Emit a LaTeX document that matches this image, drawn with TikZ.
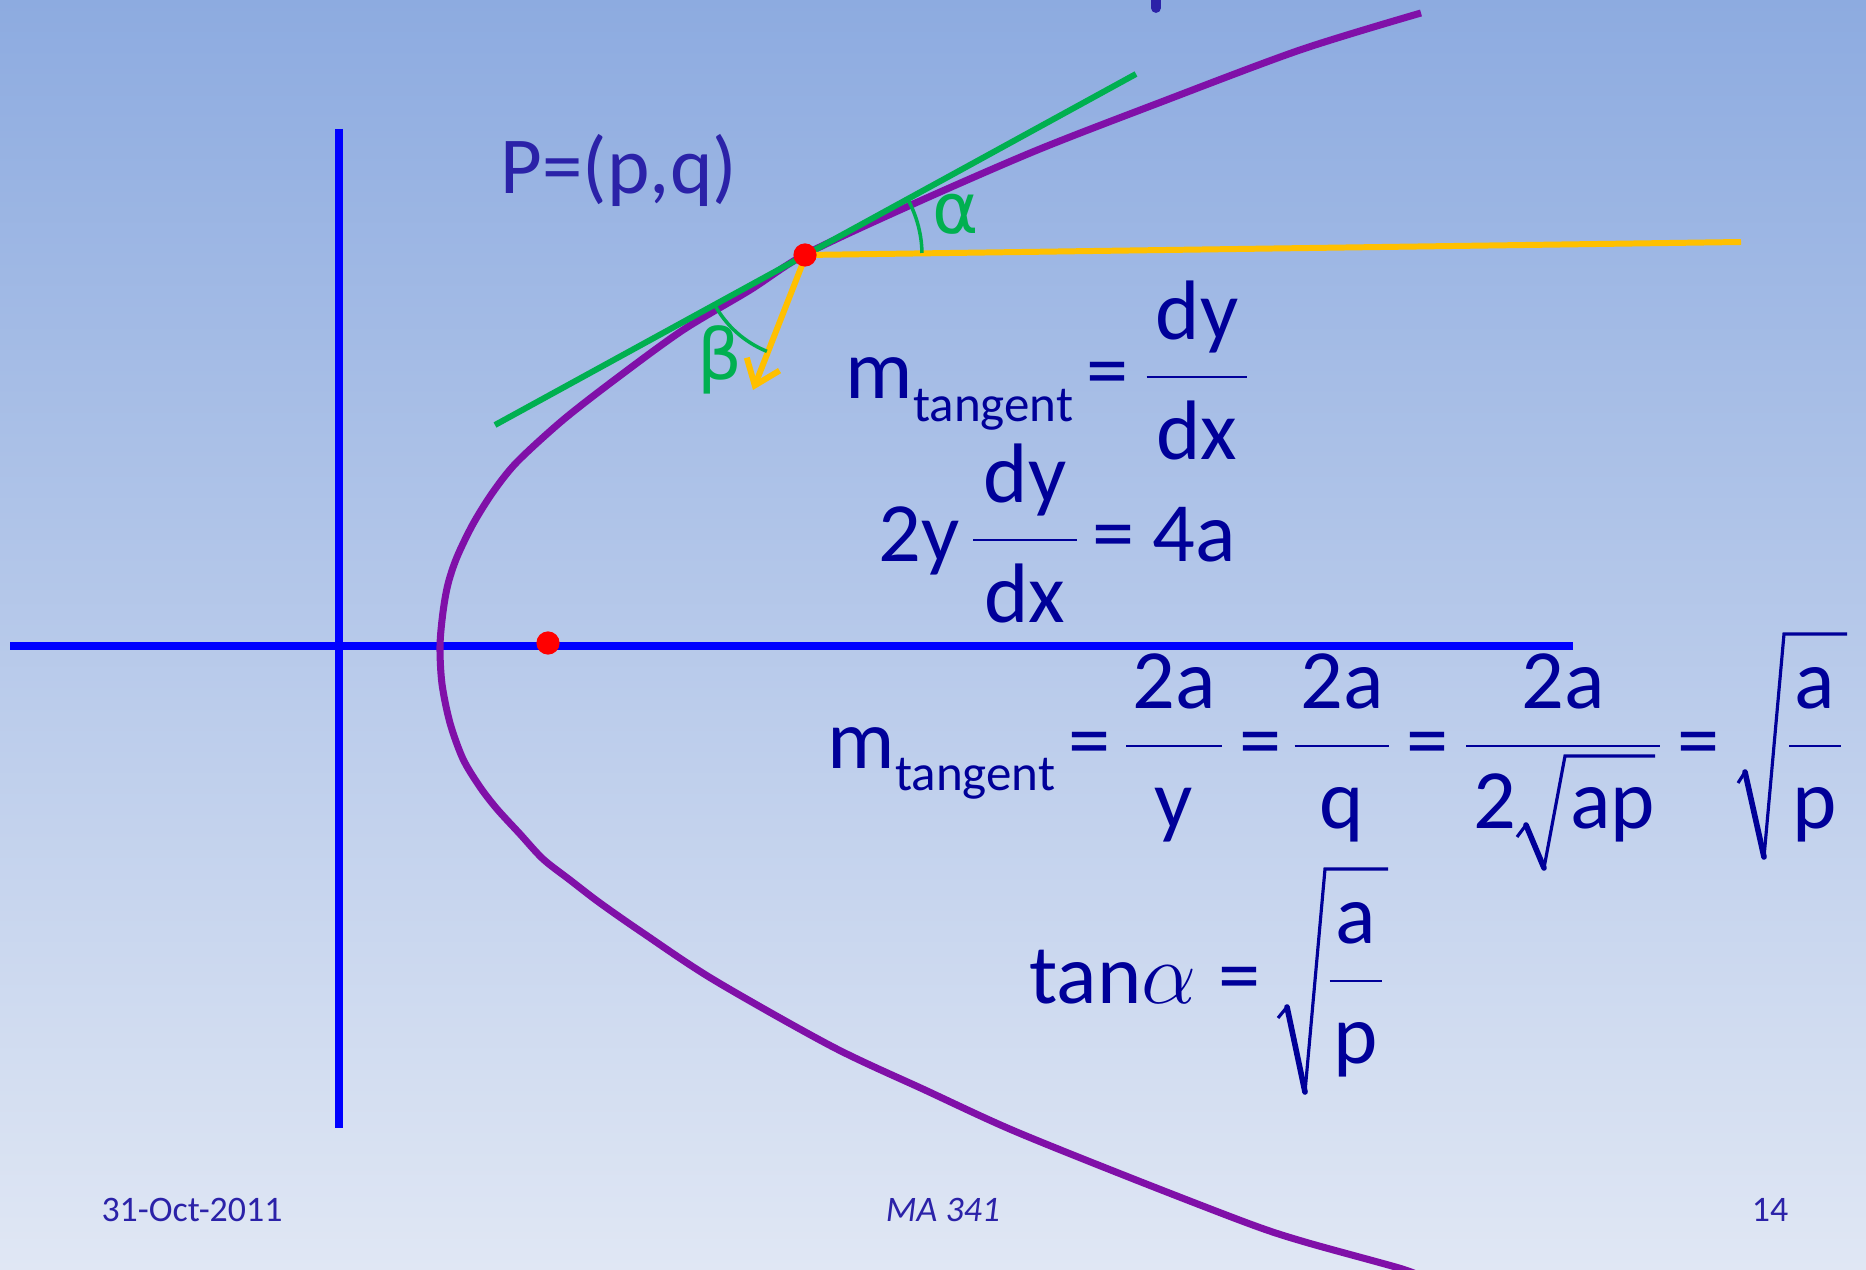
\documentclass[tikz,border=0pt]{standalone}
\usepackage{fontspec}
\setmainfont{Carlito}
\newfontfamily\greekfont{DejaVu Sans}
\usetikzlibrary{arrows.meta,calc}
\definecolor{bgtop}{RGB}{141,171,224}
\definecolor{bgbot}{RGB}{224,231,244}
\definecolor{axisblue}{RGB}{0,0,255}
\definecolor{parab}{RGB}{128,16,168}
\definecolor{tangreen}{RGB}{0,176,80}
\definecolor{ylw}{RGB}{255,192,0}
\definecolor{dotred}{RGB}{255,0,0}
\definecolor{eqblue}{RGB}{0,0,153}
\definecolor{lblblue}{RGB}{43,34,168}
\newcommand{\tx}[1]{\mbox{#1}}
\newcommand{\mtan}{m\raisebox{-6.5pt}{\fontsize{14.5}{15}\selectfont tangent}}
\newcommand{\fr}[3]{$\displaystyle\frac{\makebox[#1pt]{#2}}{\mbox{#3}}$}
\begin{document}
\begin{tikzpicture}[x=0.01cm,y=-0.01cm,
  axisline/.style={draw=axisblue,line width=2pt},
  curve/.style={draw=parab,line width=2pt,line join=round},
  tanline/.style={draw=tangreen,line width=1.7pt},
  yline/.style={draw=ylw,line width=1.7pt},
  anglearc/.style={draw=tangreen,line width=1pt},
  dot/.style={circle,fill=dotred,inner sep=0pt,minimum size=6.6pt},
  eq/.style={anchor=base west,inner sep=0pt,text=eqblue,font=\fontsize{24}{28}\selectfont},
  eqc/.style={anchor=base,inner sep=0pt,text=eqblue,font=\fontsize{24}{28}\selectfont},
  surdthin/.style={draw=eqblue,line width=0.9pt,line join=miter},
  surdthick/.style={draw=eqblue,line width=1.6pt,line cap=round},
  greek/.style={text=tangreen,inner sep=0pt,font=\greekfont\fontsize{20}{24}\selectfont},
  foot/.style={text=lblblue,inner sep=0pt,font=\fontsize{10.2}{12}\selectfont}]
\useasboundingbox (0,0) rectangle (1866,1270);
\clip (0,0) rectangle (1866,1270);
\shade[top color=bgtop,bottom color=bgbot] (0,0) rectangle (1866,1270);

% axes
\coordinate (vtop) at (339,129);
\coordinate (vmid) at (339,452);
\coordinate (vbot) at (339,1128);
\coordinate (hl) at (10,646);
\coordinate (hr) at (1573,646);
\path[axisline] (vtop) -- (vmid);
\path[axisline] (vmid) -- (vbot);
\path[axisline] (hl) -- (hr);

% small mark at top
\draw[draw=lblblue,line width=2.8pt,line cap=round] (1156,-4) -- (1156,8);

% parabola
\path[curve] plot[smooth,tension=0.5] coordinates {
 (1421,13) (1300,50) (1156,104) (1035,151) (911,205) (806,254)
 (750,290) (683,330) (617,378) (563,420) (517,462) (493,492) (473,524) (457,557)
 (448,584) (443,612) (440,646) (442,684) (450,723) (463,759) (480,787) (497,809)
 (520,834) (543,859) (570,880) (600,903) (643,933) (714,980) (833,1047) (925,1090)
 (1012,1130) (1131,1178) (1250,1224) (1305,1242) (1399,1268) (1420,1276)};

% tangent point and lines
\coordinate (T) at (806,255);
\coordinate (tanA) at (495,425);
\coordinate (tanB) at (1136,74);
\coordinate (yR) at (1741,242);
\coordinate (arrEnd) at (753,390);
\path[tanline] (tanA) -- (tanB);
\path[yline] (T) -- (yR);
\draw[draw=ylw,line width=1.7pt,-{Straight Barb[length=6.5pt,width=10pt,line width=1.7pt]}] (T) -- (arrEnd);
\draw[anglearc] (T) ++(-1:116) arc[start angle=-1,end angle=-28.7,radius=116];
\draw[anglearc] (T) ++(151.3:104) arc[start angle=151.3,end angle=112.1,radius=104];
\node[dot] (P) at (805,255) {};
\node[dot] (F) at (548,643) {};

% labels
\node[text=lblblue,inner sep=0pt,font=\fontsize{23}{26}\selectfont] (plabel) at (619,170) {P=(p,q)};
\node[greek] (alab) at (956,214) {α};
\node[greek] (blab) at (720,360) {β};

% formula 1
\node[eq] (f1m) at (845,399) {\mtan};
\node[eqc] (f1eq) at (1108,399) {=};
\node[eqc] (f1fr) at (1197,399) {\fr{28.6}{dy}{dx}};

% formula 2
\node[eq] (f2a) at (878,562) {2y};
\node[eqc] (f2fr) at (1025,562) {\fr{29.5}{dy}{dx}};
\node[eqc] (f2eq) at (1114,562) {=};
\node[eq] (f2b) at (1152,562) {4a};

% formula 3
\node[eq] (f3m) at (827,768) {\mtan};
\node[eqc] (f3eq1) at (1090,768) {=};
\node[eqc] (f3fr1) at (1174,768) {\fr{27.3}{2a}{y}};
\node[eqc] (f3eq2) at (1261,768) {=};
\node[eqc] (f3fr2) at (1342,768) {\fr{27}{2a}{q}};
\node[eqc] (f3eq3) at (1428,768) {=};
\node[eqc] (f3fr3) at (1563,768) {$\displaystyle\frac{\makebox[55pt]{2a}}{\makebox[55pt][l]{\hspace{2pt}2\hspace{15.5pt}ap}}$};
\node[eqc] (f3eq4) at (1699,768) {=};
\node[eqc] (f3fr4) at (1815,768) {\fr{14.7}{a}{p}};
% radical of sqrt(ap)
\path[surdthin] (1517,837) -- (1526,825);
\path[surdthick] (1526,825) -- (1544,868);
\path[surdthin] (1544,868) -- (1565,756) -- (1655,756);
% radical of sqrt(a/p) in formula 3
\path[surdthin] (1738,783) -- (1745,772);
\path[surdthick] (1745,772) -- (1764,857);
\path[surdthin] (1764,857) -- (1784,634) -- (1847,634);

% formula 4
\node[eq] (f4a) at (1029,1003) {tan$\alpha$};
\node[eqc] (f4eq) at (1240,1003) {=};
\node[eqc] (f4fr) at (1356,1003) {\fr{15}{a}{p}};
\path[surdthin] (1278,1018) -- (1287,1007);
\path[surdthick] (1287,1007) -- (1305,1092);
\path[surdthin] (1305,1092) -- (1325,869) -- (1388,869);

% footer
\node[foot] (date) at (192,1210) {31-Oct-2011};
\node[foot,font=\fontsize{10.2}{12}\selectfont\itshape] (course) at (943,1210) {MA 341};
\node[foot] (page) at (1770,1210) {14};
\end{tikzpicture}
\end{document}
